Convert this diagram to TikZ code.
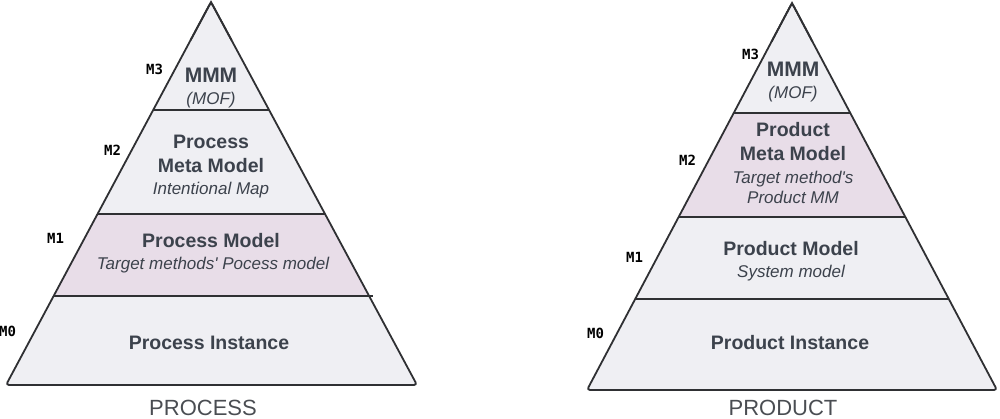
\documentclass[tikz,border=0pt]{standalone}
\usepackage{fontspec}
\usetikzlibrary{calc}
\setmainfont{Liberation Sans}
\newfontfamily\subfont{Liberation Sans}
\newfontfamily\labfont{DejaVu Sans Mono}
\definecolor{layergray}{HTML}{EFEFF3}
\definecolor{layerpink}{HTML}{E8DDE8}
\definecolor{txt}{HTML}{3C424C}
\definecolor{edge}{HTML}{2F3033}
\definecolor{capgray}{HTML}{4A4D52}
\tikzset{
  outline/.style={draw=edge, line width=1.8pt, line join=round, rounded corners=3pt},
  divider/.style={draw=edge, line width=1.5pt},
  titletext/.style={anchor=base, text=txt, font=\fontsize{19.5}{22}\selectfont\bfseries, inner sep=0pt},
  bigtitle/.style={titletext, font=\fontsize{21}{24}\selectfont\bfseries},
  subtext/.style={anchor=base, text=txt, font=\subfont\fontsize{17}{20}\selectfont\itshape, inner sep=0pt},
  captext/.style={anchor=base, text=capgray, font=\fontsize{22}{24}\selectfont, inner sep=0pt},
  levellabel/.style={anchor=base west, text=black, font=\fontsize{14}{16}\selectfont\labfont\bfseries, inner sep=0pt},
}
\begin{document}
\begin{tikzpicture}[x=1pt,y=-1pt]
\useasboundingbox (0,0) rectangle (1000,418);
% ---------------- Left pyramid (PROCESS) ----------------
\coordinate (LA) at (211,2);
\coordinate (LBL) at (6,385);
\coordinate (LBR) at (417,385);
\begin{scope}
  \clip (LA) -- (LBR) -- (LBL) -- cycle;
  \fill[layergray] (0,0) rectangle (420,390);
  \fill[layerpink] (0,214) rectangle (420,296);
\end{scope}
\draw[divider] (153.2,110) -- (268.8,110);
\draw[divider] (97.5,214) -- (324.5,214);
\draw[divider] (53.6,296) -- (373,296);
\draw[outline] (LA) -- (LBR) -- (LBL) -- cycle;
\draw[draw=edge, line width=1.8pt, line join=miter] ($(LA)!0.1!(LBL)$) -- (LA) -- ($(LA)!0.1!(LBR)$);
\node[bigtitle] (l3a) at (211,82) {MMM};
\node[subtext] (l3b) at (211,104) {(MOF)};
\node[titletext] (l2a) at (211,148) {Process};
\node[titletext] (l2b) at (211,172) {Meta Model};
\node[subtext] (l2c) at (211,194) {Intentional Map};
\node[titletext] (l1a) at (211,247) {Process Model};
\node[subtext] (l1b) at (213,269) {Target methods' Pocess model};
\node[titletext] (l0a) at (209,349) {Process Instance};
\node[captext] (lcap) at (203,415) {PROCESS};
\node[levellabel] (lm3) at (146,74) {M3};
\node[levellabel] (lm2) at (104,155) {M2};
\node[levellabel] (lm1) at (47,243) {M1};
\node[levellabel] (lm0) at (-1,336) {M0};
% ---------------- Right pyramid (PRODUCT) ----------------
\coordinate (RA) at (792,3);
\coordinate (RBL) at (587,390);
\coordinate (RBR) at (997,390);
\begin{scope}
  \clip (RA) -- (RBR) -- (RBL) -- cycle;
  \fill[layergray] (580,0) rectangle (1000,395);
  \fill[layerpink] (580,113) rectangle (1000,217);
\end{scope}
\draw[divider] (733.7,113) -- (850.3,113);
\draw[divider] (678.6,217) -- (905.4,217);
\draw[divider] (635.2,299) -- (948.8,299);
\draw[outline] (RA) -- (RBR) -- (RBL) -- cycle;
\draw[draw=edge, line width=1.8pt, line join=miter] ($(RA)!0.1!(RBL)$) -- (RA) -- ($(RA)!0.1!(RBR)$);
\node[bigtitle] (r3a) at (793,76) {MMM};
\node[subtext] (r3b) at (793,98) {(MOF)};
\node[titletext] (r2a) at (793,136) {Product};
\node[titletext] (r2b) at (793,160) {Meta Model};
\node[subtext] (r2c) at (793,183) {Target method's};
\node[subtext] (r2d) at (793,203) {Product MM};
\node[titletext] (r1a) at (791,255) {Product Model};
\node[subtext] (r1b) at (791,277) {System model};
\node[titletext] (r0a) at (790,349) {Product Instance};
\node[captext] (rcap) at (783,415) {PRODUCT};
\node[levellabel] (rm3) at (742,59) {M3};
\node[levellabel] (rm2) at (679,165) {M2};
\node[levellabel] (rm1) at (626,262) {M1};
\node[levellabel] (rm0) at (587,338) {M0};
\end{tikzpicture}
\end{document}
